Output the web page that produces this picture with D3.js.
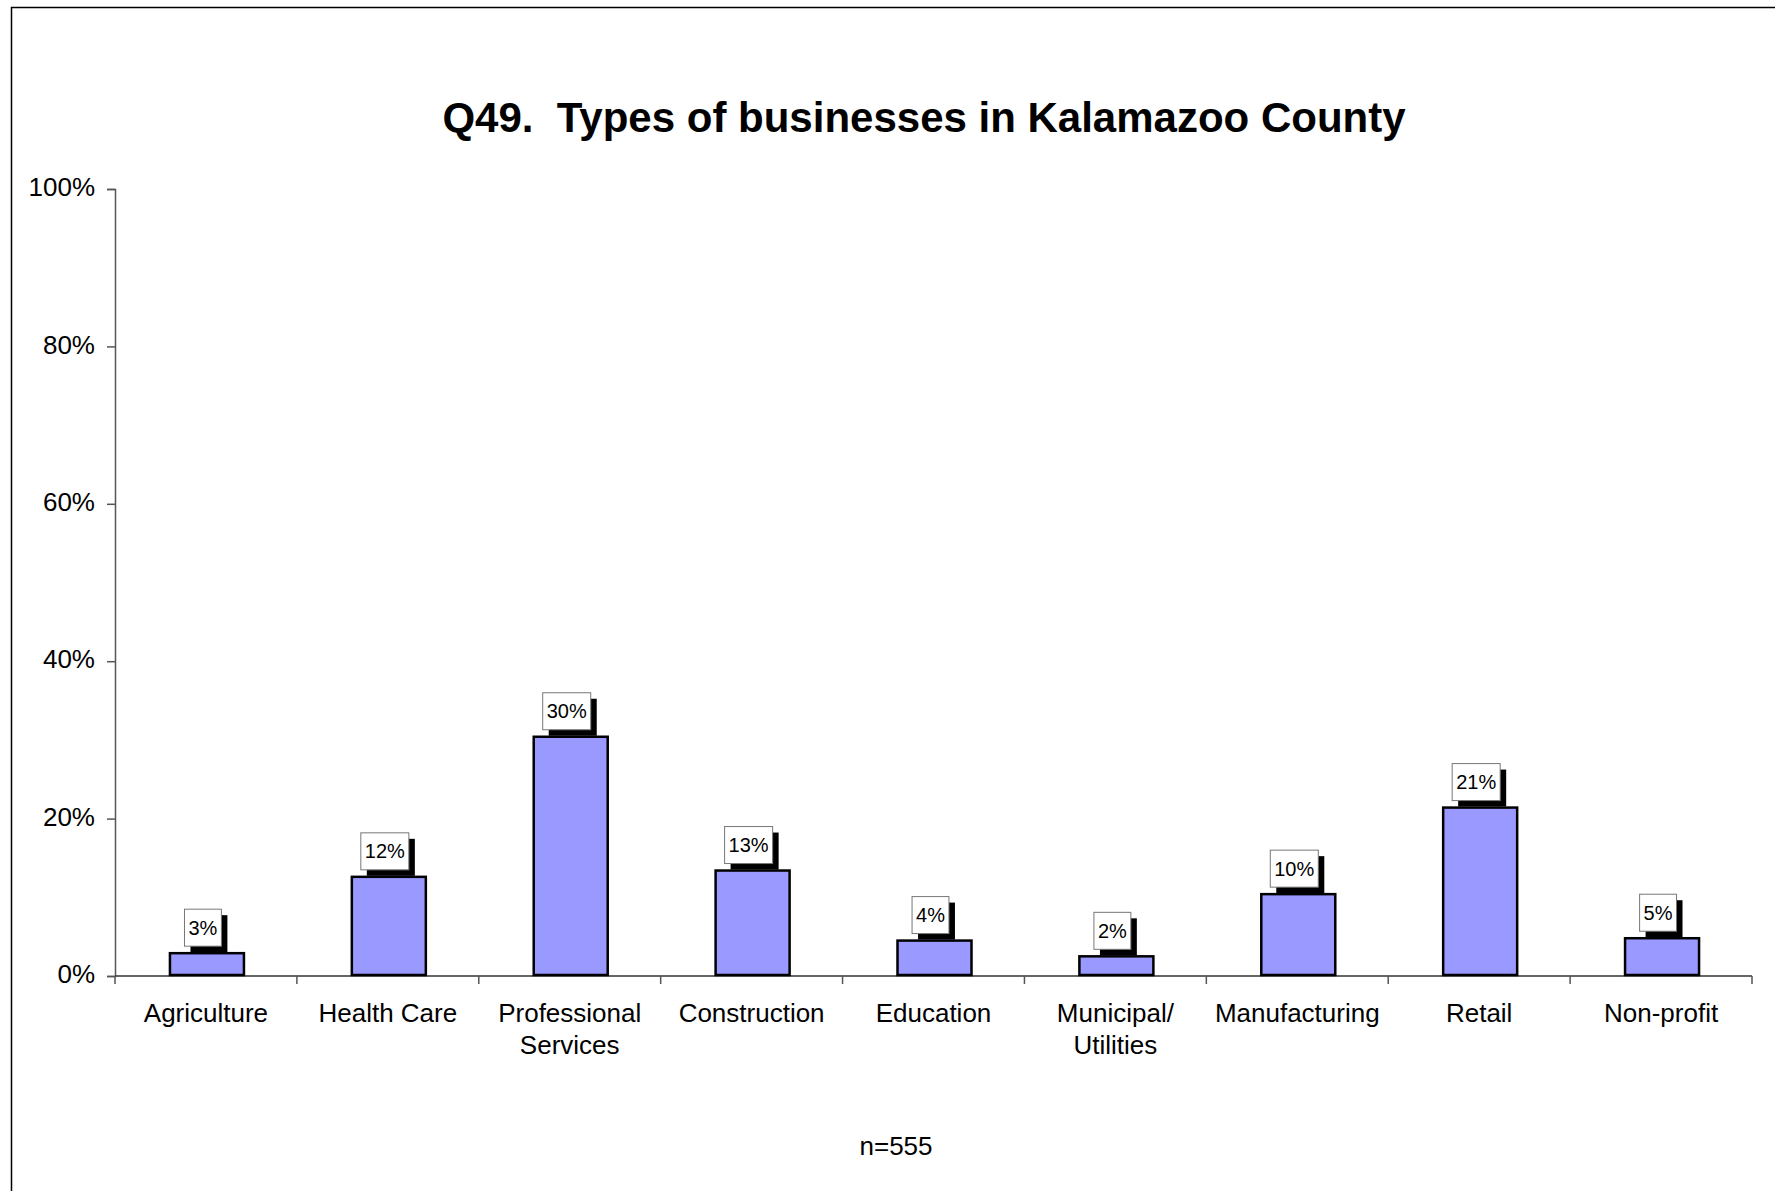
<!DOCTYPE html>
<html>
<head>
<meta charset="utf-8">
<script src="https://cdn.jsdelivr.net/npm/d3@7"></script>
<style>
  html, body { margin: 0; padding: 0; background: #fff; }
  svg { display: block; font-family: "Liberation Sans", Arial, sans-serif; }
  text { white-space: pre; }
</style>
</head>
<body>
<svg id="chart" width="1775" height="1191"></svg>
<script>
const categories = ["Agriculture", "Health Care", "Professional\nServices", "Construction", "Education", "Municipal/\nUtilities", "Manufacturing", "Retail", "Non-profit"];
const values = [2.9, 12.6, 30.4, 13.4, 4.5, 2.5, 10.4, 21.4, 4.8];
const valueLabels = ["3%", "12%", "30%", "13%", "4%", "2%", "10%", "21%", "5%"];
const yTicks = [0, 20, 40, 60, 80, 100];
const titleText = "Q49.  Types of businesses in Kalamazoo County";
const noteText = "n=555";

(function () {
const svg = d3.select("#chart");
const W = 1775, H = 1191;
const mLeft = 115, mRight = 1752, mTop = 189, mBottom = 976;

// outer frame (left and top visible)
svg.append("path")
  .attr("d", `M11.5,${H} L11.5,7.5 L${W},7.5`)
  .attr("fill", "none").attr("stroke", "#000").attr("stroke-width", 1.5);

svg.append("text")
  .attr("x", 924).attr("y", 132)
  .attr("text-anchor", "middle")
  .attr("font-size", 42).attr("font-weight", "bold")
  .attr("xml:space", "preserve")
  .text(titleText);

const x = d3.scaleBand().domain(categories).range([mLeft, mRight]).paddingInner(0).paddingOuter(0);
const y = d3.scaleLinear().domain([0, 100]).range([mBottom, mTop]);

// y axis
const yAxis = d3.axisLeft(y).tickValues(yTicks).tickFormat(d => d + "%").tickSize(8).tickPadding(12);
const gy = svg.append("g").attr("transform", `translate(${mLeft},0)`).call(yAxis);
gy.select(".domain").attr("stroke", "#555").attr("stroke-width", 1.5);
gy.selectAll(".tick line").attr("stroke", "#555").attr("stroke-width", 1.5);
gy.selectAll(".tick text").attr("font-size", 26).attr("fill", "#000")
  .attr("font-family", "Liberation Sans, Arial, sans-serif").attr("dy", "0.26em");

// x axis baseline
svg.append("line").attr("x1", mLeft).attr("x2", mRight).attr("y1", mBottom).attr("y2", mBottom)
  .attr("stroke", "#333").attr("stroke-width", 1.5);
// category separator ticks
const sepPos = categories.map(c => x(c)).concat([mRight]);
svg.selectAll(".sep").data(sepPos).enter().append("line")
  .attr("x1", d => d).attr("x2", d => d).attr("y1", mBottom).attr("y2", mBottom + 8)
  .attr("stroke", "#555").attr("stroke-width", 1.5);

// bars
const barW = 74;
svg.selectAll(".bar").data(categories).enter().append("rect")
  .attr("x", d => x(d) + x.bandwidth() / 2 - barW / 2 + 1)
  .attr("y", (d, i) => y(values[i]))
  .attr("width", barW)
  .attr("height", (d, i) => mBottom - 1 - y(values[i]))
  .attr("fill", "#9999FF").attr("stroke", "#000").attr("stroke-width", 2.5);

// value labels with shadow boxes
categories.forEach((c, i) => {
  const cx = x(c) + x.bandwidth() / 2 - 3;
  const label = valueLabels[i];
  const fs = 20;
  const g = svg.append("g");
  const shadow = g.append("rect").attr("fill", "#000");
  const box = g.append("rect").attr("fill", "#fff").attr("stroke", "#777").attr("stroke-width", 1);
  const bh = 37;
  const by = y(values[i]) - 7 - bh;
  const t = g.append("text").attr("x", cx).attr("y", by + bh / 2 + 7)
    .attr("text-anchor", "middle").attr("font-size", fs).text(label);
  const tw = t.node().getComputedTextLength();
  const bw = tw + 8;
  const bx = cx - bw / 2;
  shadow.attr("x", bx + 6).attr("y", by + 6).attr("width", bw).attr("height", bh);
  box.attr("x", bx).attr("y", by).attr("width", bw).attr("height", bh);
});

// category labels
categories.forEach(c => {
  const lines = c.split("\n");
  const t = svg.append("text").attr("text-anchor", "middle").attr("font-size", 26)
    .attr("x", x(c) + x.bandwidth() / 2).attr("y", 1022);
  lines.forEach((ln, k) => {
    t.append("tspan").attr("x", x(c) + x.bandwidth() / 2).attr("dy", k === 0 ? 0 : 32).text(ln);
  });
});

svg.append("text").attr("x", 896).attr("y", 1155).attr("text-anchor", "middle")
  .attr("font-size", 26).text(noteText);
})();
</script>
</body>
</html>
